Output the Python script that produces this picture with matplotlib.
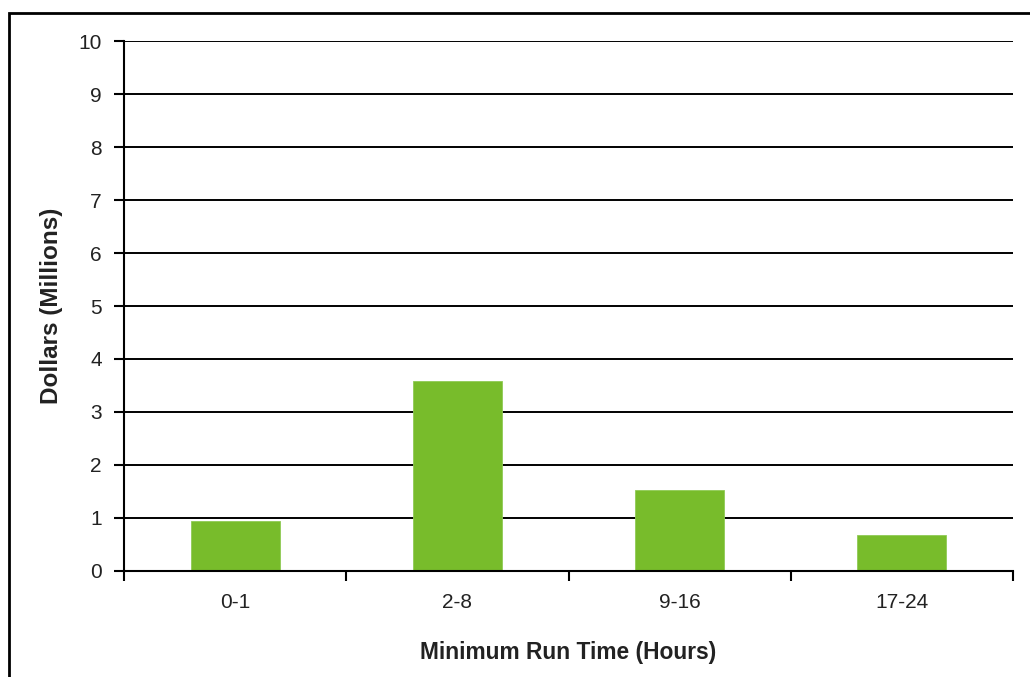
import matplotlib
matplotlib.use("Agg")
import matplotlib.pyplot as plt
from matplotlib.patches import Rectangle
import numpy as np

categories = ["0-1", "2-8", "9-16", "17-24"]
dollars_millions = [0.95, 3.58, 1.52, 0.68]
y_ticks = list(range(0, 11))

plt.rcParams["font.family"] = ["Liberation Sans", "DejaVu Sans"]

fig = plt.figure(figsize=(10.30, 6.77), dpi=100)
ax = fig.add_axes([0.1204, 0.1566, 0.8631, 0.7828])

x = np.arange(len(categories))
ax.bar(x, dollars_millions, width=0.4, color="#78BC2B", edgecolor="#8FCB55",
       linewidth=0.6, zorder=3)

ax.set_xlim(-0.5, len(categories) - 0.5)
ax.set_ylim(0, 10)
ax.set_yticks(y_ticks)
ax.set_yticklabels([str(t) for t in y_ticks])

# category labels sit between boundary ticks
ax.set_xticks(np.arange(-0.5, len(categories), 1.0))
ax.set_xticklabels([])
ax.set_xticks(x, minor=True)
ax.set_xticklabels(categories, minor=True)
ax.tick_params(axis="x", which="minor", length=0, pad=16, labelsize=15, colors="#222222")
ax.tick_params(axis="x", which="major", length=7, width=1.5, direction="out", color="black")
ax.tick_params(axis="y", length=7, width=1.5, direction="out", pad=9, labelsize=15,
               color="black", labelcolor="#222222")

ax.grid(axis="y", color="black", linewidth=1.4, zorder=1)
ax.set_axisbelow(True)
for side in ("top", "right"):
    ax.spines[side].set_visible(False)
for side in ("left", "bottom"):
    ax.spines[side].set_linewidth(1.5)
    ax.spines[side].set_color("black")
    ax.spines[side].set_zorder(4)

ax.set_xlabel("Minimum Run Time (Hours)", fontsize=16.4, fontweight="bold", labelpad=21,
              color="#222222")
ax.set_ylabel("Dollars (Millions)", fontsize=17.5, fontweight="bold", labelpad=11,
              color="#222222")

# outer frame around the chart area
fig.patches.append(Rectangle((9 / 1030, -0.05), 1.2, 1 - 13 / 677 + 0.05,
                             transform=fig.transFigure, fill=False,
                             edgecolor="black", linewidth=2))

fig.savefig("out.png", dpi=100)
